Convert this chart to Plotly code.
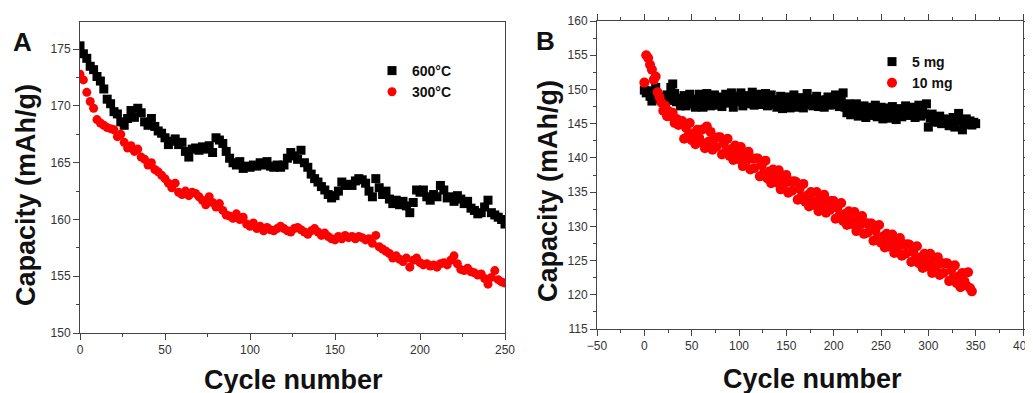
import plotly.graph_objects as go

# ---------------- Panel A data (cycle step 2) ----------------
cycles_a = list(range(0, 251, 2))
cap_600 = [
    175.3, 174.6, 174.2, 173.5, 173.2, 172.6, 172.2, 171.5, 170.6, 170.2,
    169.5, 169.3, 168.6, 168.3, 168.9, 169.6, 169.0, 169.8, 169.4, 168.6,
    168.3, 168.9, 168.2, 167.8, 167.6, 167.2, 166.6, 166.9, 167.1, 166.6,
    166.8, 166.0, 165.5, 166.2, 166.3, 166.1, 166.4, 166.2, 166.5, 165.9,
    167.2, 167.0, 166.7, 166.0, 165.4, 165.0, 164.8, 165.1, 164.5, 164.7,
    164.6, 164.8, 164.7, 165.0, 164.8, 165.1, 164.7, 164.6, 164.8, 164.6,
    164.8, 165.4, 165.9, 165.6, 165.3, 166.1, 165.0, 164.6, 164.0, 163.6,
    163.3, 162.9, 162.6, 162.2, 161.9, 162.1, 162.5, 163.3, 163.0, 163.1,
    163.0, 163.4, 163.6, 163.5, 163.2, 162.5, 162.0, 163.6, 162.8, 162.2,
    162.5, 161.8, 161.4, 161.7, 161.3, 161.6, 161.2, 160.6, 161.5, 162.6,
    162.4, 162.6, 162.0, 161.7, 162.2, 162.0, 163.0, 162.6, 161.9, 162.0,
    161.6, 162.1, 161.8, 161.4, 161.6, 161.0, 160.8, 160.5, 160.6, 161.1,
    161.7, 160.6, 160.4, 160.2, 160.0, 159.6,
]
cap_300 = [
    172.8, 172.3, 171.2, 170.4, 169.8, 168.8, 168.5, 168.3, 168.1, 168.0,
    167.9, 167.3, 167.5, 166.8, 166.3, 166.5, 166.0, 166.2, 165.5, 165.3,
    164.8, 165.0, 164.4, 164.2, 163.9, 163.6, 163.2, 162.8, 163.2, 162.4,
    162.2, 162.5, 162.1, 162.4, 162.3, 162.0, 161.7, 161.3, 162.0, 161.5,
    161.1, 161.4, 160.8, 160.4, 160.3, 160.1, 160.5, 160.0, 160.2, 159.6,
    159.4, 159.7, 159.2, 159.4, 159.0, 159.3, 159.1, 159.0, 159.2, 159.4,
    159.2, 159.0, 158.9, 159.2, 159.3, 159.1, 158.9, 158.7, 159.0, 159.2,
    158.9, 158.6, 158.8, 158.5, 158.3, 158.2, 158.5, 158.3, 158.6, 158.4,
    158.5, 158.3, 158.5, 158.4, 158.2, 158.3, 157.9, 158.6, 157.6, 157.4,
    157.2, 157.0, 156.6, 156.8, 156.5, 156.3, 156.6, 155.8, 156.4, 156.6,
    156.2, 156.0, 156.1, 155.9, 156.0, 155.8, 156.1, 156.2, 156.0, 156.4,
    156.8, 156.1, 155.6, 155.5, 155.7, 155.4, 155.3, 155.1, 155.2, 154.8,
    154.3, 154.9, 155.5, 154.7, 154.5, 154.4,
]

# ---------------- Panel B data (cycle step 2) ----------------
cycles_b5 = list(range(0, 351, 2))
cap_5mg = [
    149.9, 149.5, 149.8, 149.0, 148.3, 149.6, 150.3, 149.1, 148.6, 148.9,
    148.1, 148.7, 149.2, 148.4, 150.3, 150.8, 149.4, 148.2, 148.7, 147.6,
    148.4, 149.1, 147.6, 148.5, 149.3, 147.9, 148.6, 147.4, 148.3, 149.3,
    148.5, 147.4, 148.1, 149.4, 148.2, 147.6, 148.6, 149.2, 147.7, 148.4,
    148.9, 147.5, 148.3, 149.3, 148.0, 148.6, 149.5, 147.4, 148.2, 149.0,
    148.4, 149.5, 147.6, 148.5, 149.1, 147.9, 148.7, 149.6, 147.7, 148.3,
    148.8, 149.3, 147.8, 148.6, 149.4, 147.6, 148.4, 149.2, 147.8, 148.5,
    147.4, 148.2, 149.0, 147.2, 148.3, 147.5, 148.9, 147.3, 148.1, 149.2,
    147.4, 148.4, 147.7, 148.8, 147.3, 148.2, 149.4, 147.8, 148.6, 147.6,
    148.3, 149.0, 147.5, 148.4, 148.1, 147.4, 148.5, 148.9, 147.7, 148.3,
    148.6, 149.2, 147.8, 147.5, 148.4, 149.5, 147.4, 146.6, 147.9, 146.3,
    147.4, 146.7, 147.9, 146.1, 147.2, 146.5, 147.6, 145.9, 146.9, 147.4,
    146.2, 147.0, 147.7, 146.0, 146.8, 147.4, 145.7, 146.6, 147.3, 145.8,
    146.9, 147.5, 146.1, 145.6, 146.7, 147.2, 146.0, 146.8, 147.6, 146.2,
    147.0, 146.3, 147.4, 145.9, 146.7, 147.7, 146.1, 147.2, 146.4, 147.9,
    144.5, 145.8, 146.4, 145.3, 145.9, 145.2, 146.1, 145.0, 145.7, 145.1,
    145.6, 144.7, 145.2, 145.9, 144.5, 145.4, 146.5, 145.6, 144.1, 145.1,
    145.7, 144.9, 145.4, 144.8, 145.2, 145.0,
]
cycles_b10 = list(range(0, 347, 2))
cap_10mg = [
    151.0, 155.0, 154.6, 153.6, 152.9, 151.4, 151.9, 149.6, 148.9, 148.1,
    146.9, 147.6, 146.1, 146.8, 146.1, 146.6, 145.1, 145.7, 144.8, 145.1,
    145.4, 142.8, 144.4, 143.2, 145.1, 142.6, 143.6, 142.0, 144.1, 142.9,
    142.3, 144.2, 141.4, 144.6, 142.4, 143.8, 141.2, 142.9, 141.6, 143.0,
    143.0, 140.5, 142.1, 140.9, 142.8, 140.3, 141.3, 139.7, 141.8, 140.5,
    139.8, 141.6, 138.8, 140.5, 139.6, 140.9, 138.3, 139.9, 138.5, 139.9,
    139.9, 137.3, 138.9, 137.7, 139.6, 137.0, 138.0, 136.3, 138.3, 137.1,
    136.4, 138.2, 135.4, 137.1, 136.2, 137.5, 134.9, 136.6, 135.2, 136.6,
    136.5, 133.9, 135.5, 134.3, 136.2, 133.6, 134.5, 132.9, 135.0, 133.7,
    133.1, 135.0, 132.2, 134.0, 133.2, 134.6, 132.0, 133.7, 132.4, 133.7,
    133.7, 131.1, 132.7, 131.5, 133.4, 130.8, 131.8, 130.2, 132.2, 130.9,
    130.3, 132.1, 129.3, 131.0, 130.2, 131.5, 128.9, 130.5, 129.1, 130.4,
    130.4, 127.9, 129.4, 128.3, 130.2, 127.6, 128.5, 126.9, 128.9, 127.7,
    127.0, 128.8, 126.1, 127.8, 126.9, 128.3, 125.7, 127.4, 126.0, 127.4,
    127.3, 124.8, 126.3, 125.2, 127.1, 124.6, 125.5, 123.9, 126.0, 124.7,
    124.1, 126.0, 123.2, 125.0, 124.1, 125.5, 122.9, 124.6, 123.2, 124.6,
    124.6, 122.0, 123.6, 122.4, 124.3, 121.7, 122.7, 121.1, 123.2, 122.0,
    121.4, 123.3, 121.0, 120.5,
]

W, H = 1033, 393
OFF = 8  # page body margin offset of the figure inside the window
FONT = "Liberation Sans, Arial, sans-serif"
MS = 9

fig = go.Figure()
fig.add_trace(go.Scatter(x=cycles_a, y=cap_600, mode="markers", name="600°C",
                         marker=dict(symbol="square", size=MS, color="#000000"),
                         xaxis="x", yaxis="y", legend="legend"))
fig.add_trace(go.Scatter(x=cycles_a, y=cap_300, mode="markers", name="300°C",
                         marker=dict(symbol="circle", size=MS, color="#ff0000"),
                         xaxis="x", yaxis="y", legend="legend"))
fig.add_trace(go.Scatter(x=cycles_b5, y=cap_5mg, mode="markers", name="5 mg",
                         marker=dict(symbol="square", size=MS, color="#000000"),
                         xaxis="x2", yaxis="y2", legend="legend2"))
fig.add_trace(go.Scatter(x=cycles_b10, y=cap_10mg, mode="markers", name="10 mg",
                         marker=dict(symbol="circle", size=10, color="#ff0000"),
                         xaxis="x2", yaxis="y2", legend="legend2"))

def px_x(p):
    return (p - OFF) / W

def px_y(p):
    return 1 - (p - OFF) / H

axis_common = dict(showgrid=False, zeroline=False, showline=True, linecolor="#444444",
                   linewidth=1, ticks="outside", ticklen=6, tickwidth=1, tickcolor="#444444",
                   automargin=False,
                   tickfont=dict(family=FONT, size=12, color="#333333"))

legend_font = dict(family=FONT, size=14, color="#111111", weight="bold")

fig.update_layout(
    width=W, height=H,
    margin=dict(l=0, r=0, t=0, b=0, autoexpand=False),
    paper_bgcolor="white", plot_bgcolor="white",
    xaxis=dict(domain=[px_x(80), px_x(505)], range=[0, 250], dtick=50, anchor="y",
               mirror=True, minor=dict(ticks="outside", ticklen=3, dtick=25, tickcolor="#444444"),
               **axis_common),
    yaxis=dict(domain=[px_y(333), px_y(22)], range=[150, 177.4], dtick=5, tick0=150, anchor="x",
               mirror=True, minor=dict(ticks="outside", ticklen=3, dtick=2.5, tickcolor="#444444"),
               **axis_common),
    xaxis2=dict(domain=[px_x(597), px_x(1023)], range=[-50, 400], dtick=50, tick0=0, anchor="y2",
                mirror="ticks", minor=dict(ticks="outside", ticklen=3, dtick=25, tickcolor="#444444"),
                **axis_common),
    yaxis2=dict(domain=[px_y(329), px_y(21)], range=[115, 160], dtick=5, tick0=115, anchor="x2",
                mirror="ticks", minor=dict(ticks="outside", ticklen=3, dtick=2.5, tickcolor="#444444"),
                **axis_common),
    showlegend=True,
    legend=dict(x=px_x(372), y=px_y(55), xanchor="left", yanchor="top",
                bgcolor="rgba(0,0,0,0)", font=legend_font, itemsizing="trace"),
    legend2=dict(x=px_x(872), y=px_y(46), xanchor="left", yanchor="top",
                 bgcolor="rgba(0,0,0,0)", font=legend_font, itemsizing="trace"),
)

title_font = dict(family=FONT, size=27, color="#111111", weight="bold")
annos = [
    dict(text="A", x=px_x(22), y=px_y(42), font=dict(family=FONT, size=26, color="#111111", weight="bold")),
    dict(text="B", x=px_x(545), y=px_y(41), font=dict(family=FONT, size=26, color="#111111", weight="bold")),
    dict(text="Capacity (mAh/g)", x=px_x(26), y=px_y(195), textangle=-90, font=title_font),
    dict(text="Capacity (mAh/g)", x=px_x(548), y=px_y(191), textangle=-90, font=title_font),
    dict(text="Cycle number", x=px_x(293), y=px_y(380), font=title_font),
    dict(text="Cycle number", x=px_x(812), y=px_y(379), font=title_font),
]
for a in annos:
    a.update(xref="paper", yref="paper", showarrow=False, xanchor="center", yanchor="middle")
    fig.add_annotation(**a)

fig.write_html("out.html")
